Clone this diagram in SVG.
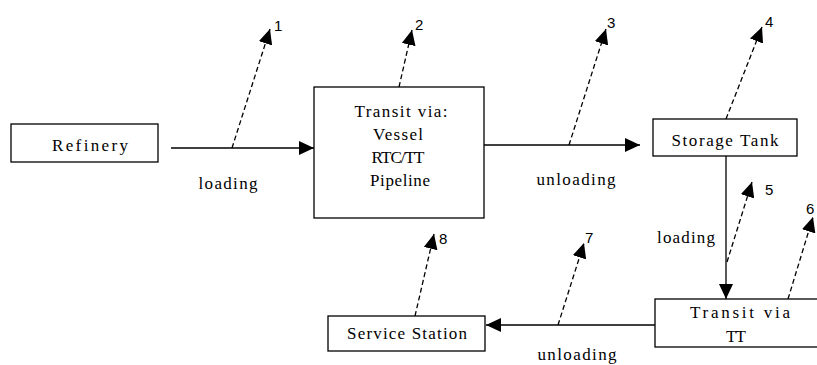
<svg xmlns="http://www.w3.org/2000/svg" width="817" height="365" viewBox="0 0 817 365">
<style>
.box{fill:#fff;stroke:#000;stroke-width:1.3}
.t{font-family:"Liberation Serif","Times New Roman",serif;font-size:17px;fill:#000;text-anchor:middle}
.n{font-family:"Liberation Sans",Arial,sans-serif;font-size:15px;fill:#000}
.s{fill:none;stroke:#000;stroke-width:1.3}
.d{fill:none;stroke:#000;stroke-width:1.3;stroke-dasharray:5,3}
</style>
<defs>
<marker id="ah" markerUnits="userSpaceOnUse" markerWidth="16" markerHeight="14" refX="15" refY="7" orient="auto">
<path d="M0,0 L15,7 L0,14 z" fill="#000"/>
</marker>
</defs>
<rect width="817" height="365" fill="#fff"/>
<g id="connectors">
<line class="s" x1="171" y1="148" x2="314" y2="148" marker-end="url(#ah)"/>
<line class="s" x1="484" y1="145" x2="640" y2="145" marker-end="url(#ah)"/>
<line class="s" x1="726" y1="156" x2="726" y2="299" marker-end="url(#ah)"/>
<line class="s" x1="655" y1="325" x2="486" y2="325" marker-end="url(#ah)"/>
<line class="d" x1="232" y1="148" x2="270" y2="29" marker-end="url(#ah)"/>
<line class="d" x1="399" y1="87" x2="412" y2="30" marker-end="url(#ah)"/>
<line class="d" x1="569" y1="145" x2="606" y2="29" marker-end="url(#ah)"/>
<line class="d" x1="726" y1="119" x2="762" y2="27" marker-end="url(#ah)"/>
<line class="d" x1="727" y1="262" x2="752" y2="182" marker-end="url(#ah)"/>
<line class="d" x1="788" y1="299" x2="813" y2="217" marker-end="url(#ah)"/>
<line class="d" x1="558" y1="325" x2="584" y2="243" marker-end="url(#ah)"/>
<line class="d" x1="415" y1="316" x2="434" y2="234" marker-end="url(#ah)"/>
<text class="t" x="228" y="189" textLength="59">loading</text>
<text class="t" x="576" y="185" textLength="79">unloading</text>
<text class="t" x="686" y="243" textLength="58">loading</text>
<text class="t" x="577" y="360" textLength="79">unloading</text>
<text class="n" x="274" y="31">1</text>
<text class="n" x="415" y="30">2</text>
<text class="n" x="607" y="28">3</text>
<text class="n" x="765" y="27">4</text>
<text class="n" x="765" y="195">5</text>
<text class="n" x="806" y="214">6</text>
<text class="n" x="585" y="243">7</text>
<text class="n" x="439" y="244">8</text>
</g>
<g id="refinery">
<rect class="box" x="11" y="124" width="147" height="38"/>
<text class="t" x="90" y="151" textLength="76">Refinery</text>
</g>
<g id="transit1">
<rect class="box" x="314" y="87" width="170" height="131"/>
<text class="t" x="401" y="117" textLength="93">Transit via:</text>
<text class="t" x="398" y="140" textLength="50">Vessel</text>
<text class="t" x="398" y="163" textLength="53">RTC/TT</text>
<text class="t" x="400" y="186" textLength="60">Pipeline</text>
</g>
<g id="storage">
<rect class="box" x="653" y="119" width="144" height="37"/>
<text class="t" x="725" y="146" textLength="107">Storage Tank</text>
</g>
<g id="transit2">
<rect class="box" x="655" y="299" width="175" height="48"/>
<text class="t" x="740" y="318" textLength="100">Transit via</text>
<text class="t" x="736" y="342" textLength="20">TT</text>
</g>
<g id="station">
<rect class="box" x="328" y="316" width="157" height="35"/>
<text class="t" x="407" y="339" textLength="120">Service Station</text>
</g>
</svg>
